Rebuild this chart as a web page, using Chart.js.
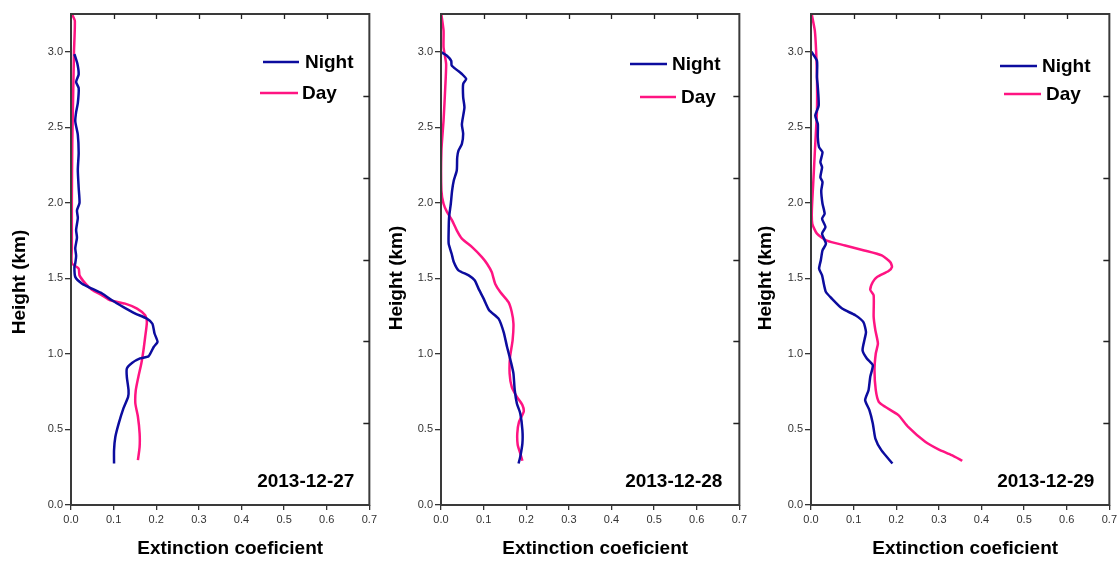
<!DOCTYPE html>
<html>
<head>
<meta charset="utf-8">
<script src="https://cdn.jsdelivr.net/npm/chart.js@4.4.1/dist/chart.umd.min.js"></script>
<style>
  html, body { margin: 0; padding: 0; background: #fff; }
  #wrap { position: relative; width: 1117px; height: 561px; overflow: hidden; }
  #wrap canvas { position: absolute; top: 0; }
</style>
</head>
<body>
<div id="wrap">
  <canvas id="c27" width="380" height="561" style="left:0px"></canvas>
  <canvas id="c28" width="380" height="561" style="left:370px"></canvas>
  <canvas id="c29" width="380" height="561" style="left:740px"></canvas>
</div>
<script>
// profiles: height (km) top -> bottom, extinction value
const nightHeight27 = [2.985, 2.92, 2.85, 2.80, 2.76, 2.66, 2.60, 2.54, 2.45, 2.33, 2.22, 2.10, 2.00, 1.95, 1.90, 1.82, 1.77, 1.70, 1.65, 1.60, 1.575, 1.51, 1.465, 1.432, 1.40, 1.355, 1.31, 1.267, 1.234, 1.20, 1.135, 1.08, 1.046, 0.985, 0.97, 0.94, 0.903, 0.848, 0.76, 0.716, 0.64, 0.54, 0.45, 0.363, 0.275];
const nightExt27    = [0.008, 0.015, 0.018, 0.012, 0.018, 0.016, 0.012, 0.010, 0.016, 0.018, 0.016, 0.018, 0.020, 0.014, 0.016, 0.012, 0.014, 0.010, 0.012, 0.010, 0.008, 0.010, 0.026, 0.049, 0.073, 0.096, 0.123, 0.151, 0.178, 0.191, 0.196, 0.203, 0.194, 0.182, 0.162, 0.143, 0.131, 0.131, 0.135, 0.134, 0.123, 0.112, 0.104, 0.101, 0.101];
const dayHeight27   = [3.245, 3.205, 3.0, 2.7, 2.4, 2.0, 1.7, 1.60, 1.565, 1.52, 1.465, 1.425, 1.388, 1.355, 1.333, 1.30, 1.256, 1.21, 1.112, 1.024, 0.936, 0.848, 0.76, 0.672, 0.584, 0.474, 0.385, 0.297];
const dayExt27      = [0.003, 0.009, 0.007, 0.005, 0.003, 0.002, 0.002, 0.002, 0.018, 0.020, 0.034, 0.049, 0.073, 0.092, 0.127, 0.155, 0.174, 0.178, 0.174, 0.170, 0.165, 0.158, 0.152, 0.151, 0.157, 0.161, 0.161, 0.157];

const nightHeight28 = [2.996, 2.974, 2.94, 2.91, 2.88, 2.853, 2.82, 2.787, 2.70, 2.632, 2.52, 2.457, 2.39, 2.346, 2.30, 2.214, 2.148, 2.08, 1.994, 1.905, 1.818, 1.73, 1.663, 1.608, 1.553, 1.52, 1.487, 1.432, 1.366, 1.289, 1.234, 1.145, 1.046, 0.936, 0.87, 0.76, 0.672, 0.606, 0.496, 0.408, 0.32, 0.275];
const nightExt28    = [0.001, 0.014, 0.024, 0.025, 0.037, 0.049, 0.059, 0.052, 0.052, 0.055, 0.049, 0.052, 0.049, 0.041, 0.038, 0.037, 0.030, 0.026, 0.023, 0.019, 0.018, 0.018, 0.025, 0.030, 0.041, 0.065, 0.079, 0.088, 0.100, 0.113, 0.135, 0.147, 0.155, 0.165, 0.170, 0.173, 0.178, 0.186, 0.191, 0.191, 0.186, 0.182];
const dayHeight28   = [3.245, 3.14, 3.03, 2.92, 2.765, 2.545, 2.346, 2.08, 1.994, 1.94, 1.884, 1.818, 1.763, 1.707, 1.641, 1.597, 1.542, 1.465, 1.41, 1.344, 1.278, 1.20, 1.09, 0.98, 0.87, 0.782, 0.716, 0.661, 0.617, 0.55, 0.474, 0.397, 0.342, 0.293];
const dayExt28      = [0.001, 0.006, 0.006, 0.012, 0.010, 0.006, 0.001, 0.001, 0.006, 0.014, 0.026, 0.037, 0.049, 0.073, 0.096, 0.108, 0.119, 0.127, 0.139, 0.158, 0.166, 0.170, 0.168, 0.162, 0.161, 0.166, 0.178, 0.191, 0.194, 0.183, 0.179, 0.180, 0.186, 0.191];

const nightHeight29 = [3.00, 2.94, 2.83, 2.765, 2.644, 2.578, 2.522, 2.434, 2.368, 2.335, 2.27, 2.236, 2.17, 2.137, 2.08, 1.994, 1.928, 1.895, 1.84, 1.796, 1.73, 1.685, 1.62, 1.564, 1.52, 1.465, 1.41, 1.366, 1.30, 1.256, 1.21, 1.145, 1.10, 1.024, 0.97, 0.925, 0.848, 0.76, 0.694, 0.628, 0.54, 0.44, 0.363, 0.275];
const nightExt29    = [0.001, 0.014, 0.014, 0.016, 0.018, 0.010, 0.016, 0.016, 0.019, 0.027, 0.022, 0.026, 0.022, 0.027, 0.024, 0.027, 0.032, 0.026, 0.034, 0.026, 0.035, 0.027, 0.023, 0.019, 0.026, 0.030, 0.035, 0.049, 0.073, 0.104, 0.123, 0.129, 0.126, 0.121, 0.131, 0.145, 0.139, 0.135, 0.127, 0.137, 0.145, 0.151, 0.165, 0.191];
const dayHeight29   = [3.245, 3.14, 3.007, 2.83, 2.61, 2.39, 2.17, 1.95, 1.862, 1.796, 1.75, 1.718, 1.685, 1.652, 1.608, 1.575, 1.549, 1.509, 1.476, 1.425, 1.388, 1.245, 1.157, 1.069, 1.003, 0.892, 0.76, 0.683, 0.65, 0.595, 0.517, 0.418, 0.368, 0.33, 0.293];
const dayExt29      = [0.002, 0.009, 0.012, 0.014, 0.014, 0.010, 0.006, 0.002, 0.003, 0.014, 0.037, 0.080, 0.125, 0.166, 0.186, 0.190, 0.182, 0.155, 0.145, 0.139, 0.147, 0.147, 0.151, 0.157, 0.152, 0.149, 0.152, 0.159, 0.174, 0.205, 0.228, 0.268, 0.299, 0.330, 0.355];

const dates = ['2013-12-27', '2013-12-28', '2013-12-29'];
const seriesNames = ['Night', 'Day'];
const xMin = 0, xMax = 0.7, xStep = 0.1;
const yMin = 0, yMax = 3.25, yStep = 0.5;

const NIGHT = '#0c0c9e';
const DAY = '#ff1482';
const FONT = "'Liberation Sans', Arial, sans-serif";

const toPoints = (h, x) => h.map((v, i) => ({ x: x[i], y: v }));

// everything drawn by hand: frame, inward ticks, legend, date, axis titles
const decor = {
  id: 'decor',
  afterDraw(chart, args, o) {
    const ctx = chart.ctx;
    const a = chart.chartArea;
    const xs = chart.scales.x, ys = chart.scales.y;
    ctx.save();
    ctx.strokeStyle = '#3a3a3a';
    ctx.lineWidth = 2;
    ctx.strokeRect(a.left, a.top, a.right - a.left, a.bottom - a.top);

    // inward ticks on top and right
    ctx.lineWidth = 1.3;
    ctx.strokeStyle = '#222';
    ctx.beginPath();
    xs.ticks.forEach(t => {
      const px = Math.round(xs.getPixelForValue(t.value)) + 0.5;
      if (px <= a.left + 2 || px >= a.right - 2) return;
      ctx.moveTo(px, a.top);
      ctx.lineTo(px, a.top + 5);
    });
    for (let k = 1; k < 6; k++) {
      const py = Math.round(ys.getPixelForValue(yMax * k / 6)) + 0.5;
      ctx.moveTo(a.right, py);
      ctx.lineTo(a.right - 6, py);
    }
    ctx.stroke();

    // legend
    ctx.font = 'bold 19px ' + FONT;
    ctx.textBaseline = 'middle';
    ctx.textAlign = 'left';
    chart.data.datasets.forEach((ds, i) => {
      const l = o.legend[i];
      ctx.strokeStyle = ds.borderColor;
      ctx.lineWidth = 2.5;
      ctx.beginPath();
      ctx.moveTo(a.left + l.x1, l.y);
      ctx.lineTo(a.left + l.x2, l.y);
      ctx.stroke();
      ctx.fillStyle = '#000';
      ctx.fillText(ds.label, a.left + l.tx, l.y + 1);
    });

    // date stamp
    ctx.textAlign = 'right';
    ctx.fillText(o.date, a.right - o.dateRight, 482);

    // axis titles
    ctx.textAlign = 'center';
    ctx.fillText('Extinction coeficient', (a.left + a.right) / 2 + o.xTitleShift, 549);
    ctx.translate(a.left - o.yTitleGap, o.yTitleY);
    ctx.rotate(-Math.PI / 2);
    ctx.fillText('Height (km)', 0, 0);
    ctx.restore();
  }
};

function makeChart(id, date, nh, nx, dh, dx, look) {
  new Chart(document.getElementById(id), {
    type: 'scatter',
    data: {
      datasets: [
        { label: seriesNames[0], data: toPoints(nh, nx), borderColor: NIGHT, showLine: true, pointRadius: 0, borderWidth: 2.5, tension: 0.2 },
        { label: seriesNames[1], data: toPoints(dh, dx), borderColor: DAY, showLine: true, pointRadius: 0, borderWidth: 2.5, tension: 0.2 }
      ]
    },
    options: {
      responsive: false,
      animation: false,
      layout: { padding: { top: 14, right: 10, left: 0, bottom: 0 } },
      plugins: {
        legend: { display: false },
        tooltip: { enabled: false },
        decor: Object.assign({ date: date }, look)
      },
      scales: {
        x: {
          type: 'linear',
          min: xMin, max: xMax,
          ticks: {
            stepSize: xStep, includeBounds: false, autoSkip: false, maxRotation: 0,
            callback: v => v.toFixed(1),
            font: { family: FONT, size: 11 }, color: '#333', padding: 3
          },
          grid: { drawOnChartArea: false, drawTicks: true, tickLength: 5, color: '#333', lineWidth: 1.3 },
          border: { display: false },
          afterFit: s => { s.height = 56; }
        },
        y: {
          type: 'linear',
          min: yMin, max: yMax,
          ticks: {
            stepSize: yStep, includeBounds: false, autoSkip: false,
            callback: v => v.toFixed(1),
            font: { family: FONT, size: 11 }, color: '#333', padding: 2
          },
          grid: { drawOnChartArea: false, drawTicks: true, tickLength: 6, color: '#333', lineWidth: 1.3 },
          border: { display: false },
          afterFit: s => { s.width = 71; }
        }
      }
    },
    plugins: [decor]
  });
}

makeChart('c27', dates[0], nightHeight27, nightExt27, dayHeight27, dayExt27, {
  legend: [{ x1: 192, x2: 228, tx: 234, y: 62 }, { x1: 189, x2: 227, tx: 231, y: 93 }],
  dateRight: 15, xTitleShift: 10, yTitleGap: 51, yTitleY: 282
});
makeChart('c28', dates[1], nightHeight28, nightExt28, dayHeight28, dayExt28, {
  legend: [{ x1: 189, x2: 226, tx: 231, y: 64 }, { x1: 199, x2: 235, tx: 240, y: 97 }],
  dateRight: 17, xTitleShift: 5, yTitleGap: 44, yTitleY: 278
});
makeChart('c29', dates[2], nightHeight29, nightExt29, dayHeight29, dayExt29, {
  legend: [{ x1: 189, x2: 226, tx: 231, y: 66 }, { x1: 193, x2: 230, tx: 235, y: 94 }],
  dateRight: 15, xTitleShift: 5, yTitleGap: 45, yTitleY: 278
});
</script>
</body>
</html>
